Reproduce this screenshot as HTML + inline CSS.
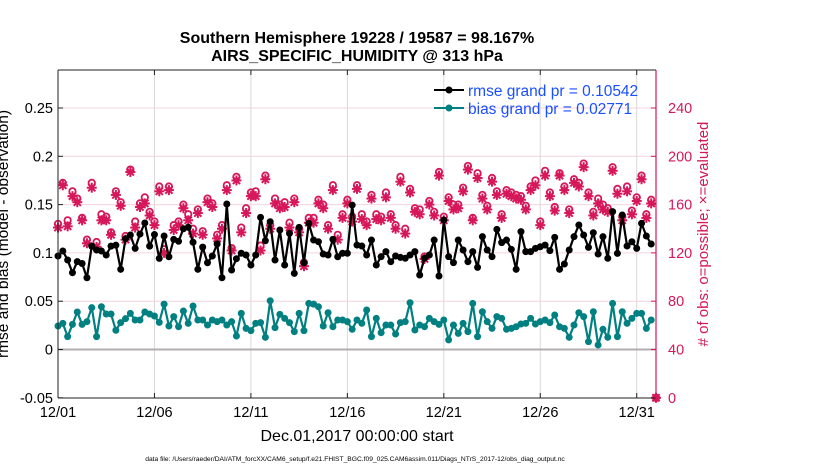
<!DOCTYPE html>
<html><head><meta charset="utf-8"><style>
body{margin:0;background:#fff;}
svg text{font-family:"Liberation Sans",sans-serif;}
</style></head><body>
<svg id="chart" width="830" height="470" xmlns="http://www.w3.org/2000/svg">
<rect width="830" height="470" fill="#fff"/>
<g id="grid"></g><g id="marks"></g><g id="axes"></g>
<text x="357" y="43" text-anchor="middle" font-size="16" font-weight="bold">Southern Hemisphere 19228 / 19587 = 98.167%</text>
<text x="357" y="61" text-anchor="middle" font-size="16" font-weight="bold">AIRS_SPECIFIC_HUMIDITY @ 313 hPa</text>
<text x="357" y="441" text-anchor="middle" font-size="16">Dec.01,2017 00:00:00 start</text>
<text transform="translate(8,234) rotate(-90)" text-anchor="middle" font-size="15.5">rmse and bias (model - observation)</text>
<text transform="translate(708,234) rotate(-90)" text-anchor="middle" font-size="15" fill="#d6175a"># of obs: o=possible; ×=evaluated</text>
<text x="355" y="461" text-anchor="middle" font-size="6.7">data file: /Users/raeder/DAI/ATM_forcXX/CAM6_setup/f.e21.FHIST_BGC.f09_025.CAM6assim.011/Diags_NTrS_2017-12/obs_diag_output.nc</text>
<g>
<line x1="434" y1="90" x2="464" y2="90" stroke="#000" stroke-width="2"/><circle cx="449" cy="90" r="3.5" fill="#000"/>
<text x="468" y="96" font-size="15.5" fill="#1a4fff">rmse grand pr = 0.10542</text>
<line x1="434" y1="108" x2="464" y2="108" stroke="#008080" stroke-width="2"/><circle cx="449" cy="108" r="3.5" fill="#008080"/>
<text x="468" y="114" font-size="15.5" fill="#1a4fff">bias grand pr = 0.02771</text>
</g>
</svg>
<script>
const rmse=[0.0968,0.102,0.0926,0.0795,0.091,0.089,0.0743,0.107,0.103,0.102,0.0978,0.107,0.108,0.083,0.1147,0.1185,0.1047,0.1195,0.131,0.107,0.119,0.0943,0.1175,0.096,0.114,0.112,0.125,0.1265,0.111,0.083,0.106,0.0898,
0.0968,0.1092,0.0743,0.1506,0.0823,0.094,0.0996,0.0978,0.0875,0.0978,0.1368,0.1126,0.1323,0.0926,0.1237,0.0875,0.1202,0.0788,0.1264,0.0898,0.1306,0.1133,0.1116,0.0988,0.0978,0.114,0.096,0.0996,0.0996,0.1495,0.1081,
0.1071,0.0978,0.1133,0.0875,0.0961,0.1013,0.0909,0.0968,0.0954,0.0944,0.0978,0.1013,0.0771,0.0944,0.0978,0.1133,0.0761,0.134,0.0961,0.0899,0.1133,0.103,0.0909,0.1013,0.085,0.1168,0.103,0.0961,0.1244,0.1106,0.1133,
0.1037,0.083,0.122,0.1013,0.1013,0.1047,0.1064,0.1081,0.1023,0.1161,0.083,0.0885,0.103,0.1168,0.1289,0.1185,0.1057,0.1209,0.0988,0.1168,0.0944,0.1427,0.0995,0.1392,0.1071,0.1116,0.1047,0.1306,0.1175,0.1092];
const bias=[0.0243,0.0271,0.0133,0.026,0.0388,0.026,0.0288,0.0433,0.0133,0.0443,0.0367,0.0367,0.0199,0.0278,0.0319,0.0374,0.0305,0.0305,0.0388,0.0367,0.0347,0.0281,0.047,0.0243,0.034,0.0236,0.0398,0.0271,0.045,0.0305,0.0305,0.0253,
0.0305,0.0288,0.0305,0.0253,0.0288,0.014,0.0374,0.0219,0.0195,0.0271,0.0278,0.0126,0.0505,0.0226,0.0364,0.0322,0.0278,0.0185,0.0374,0.0195,0.0477,0.047,0.0443,0.0243,0.0381,0.0236,0.0305,0.0305,0.0288,0.0209,0.0305,
0.0271,0.0409,0.0133,0.0322,0.0174,0.0253,0.0253,0.016,0.0278,0.0288,0.0484,0.0202,0.0253,0.0236,0.0322,0.0288,0.026,0.0305,0.0099,0.0253,0.0167,0.0271,0.0185,0.0477,0.0133,0.0391,0.0288,0.0219,0.034,0.0322,0.0209,
0.0219,0.0236,0.0264,0.0271,0.0322,0.0264,0.0288,0.0305,0.0278,0.0357,0.0236,0.0219,0.0126,0.0253,0.0381,0.034,0.0081,0.0391,0.0047,0.0209,0.0126,0.0477,0.0133,0.0391,0.0271,0.0322,0.0374,0.0374,0.0219,0.0305];
const evaluated=[141,176,142,167,162,147,128,174,125,147,147,135,168,159,131,187,141,158,161,151,143,171,120,172,139,143,157,147,136,153,135,162,
158,132,140,172,122,180,137,153,167,167,122,181,140,161,157,158,141,162,137,109,145,145,161,157,140,172,131,149,161,146,173,
148,143,165,148,147,166,149,140,179,136,170,154,152,115,160,151,184,147,163,156,157,171,189,147,182,165,156,179,168,149,169,
167,165,164,156,172,176,143,184,167,155,184,172,153,178,175,191,167,151,161,156,154,188,169,147,171,152,163,181,149,161];
const possible=[144,178,147,171,165,149,131,178,129,152,150,137,171,162,134,189,146,161,166,154,146,175,123,175,143,146,160,152,140,156,138,165,
161,135,143,176,124,183,141,157,170,171,126,184,143,165,160,162,145,165,140,112,149,149,164,160,143,176,135,152,164,150,176,
152,146,168,152,150,170,152,143,183,140,173,157,156,117,163,154,187,150,166,160,160,174,192,149,186,168,159,182,171,152,172,
170,168,167,159,175,180,146,188,170,158,186,175,156,181,178,194,170,154,165,160,157,191,173,150,175,155,166,184,152,164];
const xTickLabels=["12/01","12/06","12/11","12/16","12/21","12/26","12/31"];
const xTickDays=[0,5,10,15,20,25,30];
const yTicksLeft=[-0.05,0,0.05,0.1,0.15,0.2,0.25];
const yTickLabelsLeft=["-0.05","0","0.05","0.1","0.15","0.2","0.25"];
const yTicksRight=[0,40,80,120,160,200,240];
const endCount=0;

const L=58,R=656,T=70,B=398;
const xS=d=>L+d*(R-L)/31;
const yL=v=>349.5-v*966;
const yR=c=>yL(c/800-0.05);
const NS="http://www.w3.org/2000/svg";
function mk(p,tag,at){const e=document.createElementNS(NS,tag);for(const k in at)e.setAttribute(k,at[k]);p.appendChild(e);return e;}
const grid=document.getElementById('grid'),marks=document.getElementById('marks'),axes=document.getElementById('axes');
xTickDays.forEach((d,i)=>{
 const g=mk(grid,'line',{x1:xS(d),x2:xS(d),y1:T,y2:B,stroke:'#d8d8d8','stroke-width':1});
 
 
 const t=mk(axes,'text',{x:xS(d),y:B+19,'text-anchor':'middle','font-size':14.5});
 t.textContent=xTickLabels[i];
 
 
 mk(axes,'line',{x1:xS(d),x2:xS(d),y1:T,y2:T+5,stroke:'#222'});
 mk(axes,'line',{x1:xS(d),x2:xS(d),y1:B,y2:B-5,stroke:'#222'});
});
yTicksRight.forEach(c=>{
 if(c>0&&c!=40){const g=mk(grid,'line',{x1:L,x2:R,y1:yR(c),y2:yR(c),stroke:'#f4d4de','stroke-width':1});
 
 }
 const t=mk(axes,'text',{x:R+12,y:yR(c)+5,'font-size':14.5,fill:'#d6175a'});
 t.textContent=c;
 
 
 mk(axes,'line',{x1:R,x2:R-5,y1:yR(c),y2:yR(c),stroke:'#d6175a'});
});
yTicksLeft.forEach((v,i)=>{
 const t=mk(axes,'text',{x:L-5,y:yL(v)+5,'text-anchor':'end','font-size':14.5});
 t.textContent=yTickLabelsLeft[i];
 
 
 mk(axes,'line',{x1:L,x2:L+5,y1:yL(v),y2:yL(v),stroke:'#222'});
});
const zl=mk(grid,'line',{x1:L,x2:R,y1:yL(0),y2:yL(0),stroke:'#b5adb1','stroke-width':2});


const col='#d6175a';
function star(x,y){const g=mk(marks,'g',{stroke:col,'stroke-width':2});
 
 
 mk(g,'line',{x1:x-5,x2:x+5,y1:y,y2:y});mk(g,'line',{x1:x,x2:x,y1:y-5,y2:y+5});
 mk(g,'line',{x1:x-3.6,x2:x+3.6,y1:y-3.6,y2:y+3.6});mk(g,'line',{x1:x-3.6,x2:x+3.6,y1:y+3.6,y2:y-3.6});}
possible.forEach((c,i)=>{const x=xS(i/4);
 const o=mk(marks,'circle',{cx:x,cy:yR(c),r:3.2,fill:'none',stroke:col,'stroke-width':1.8});
 
 
 star(x,yR(evaluated[i]));});
const eo=mk(marks,'circle',{cx:xS(31),cy:yR(endCount),r:3.2,fill:'none',stroke:col,'stroke-width':1.8});


star(xS(31),yR(endCount));
function series(arr,c,name){
 const pl=mk(marks,'polyline',{points:arr.map((v,i)=>xS(i/4)+','+yL(v)).join(' '),fill:'none',stroke:c,'stroke-width':2.2,'stroke-linejoin':'round'});
 
 
 arr.forEach((v,i)=>{const p=mk(marks,'circle',{cx:xS(i/4),cy:yL(v),r:3.5,fill:c});
 
 });
}
series(bias,'#008080','bias');
series(rmse,'#000','rmse');
mk(axes,'line',{x1:L,x2:L,y1:T,y2:B,stroke:'#222','stroke-width':1});
mk(axes,'line',{x1:L,x2:R,y1:T,y2:T,stroke:'#222','stroke-width':1});
mk(axes,'line',{x1:L,x2:R,y1:B,y2:B,stroke:'#222','stroke-width':1});
mk(axes,'line',{x1:R,x2:R,y1:T,y2:B,stroke:'#d6175a','stroke-width':1.2});
</script>
</body></html>
